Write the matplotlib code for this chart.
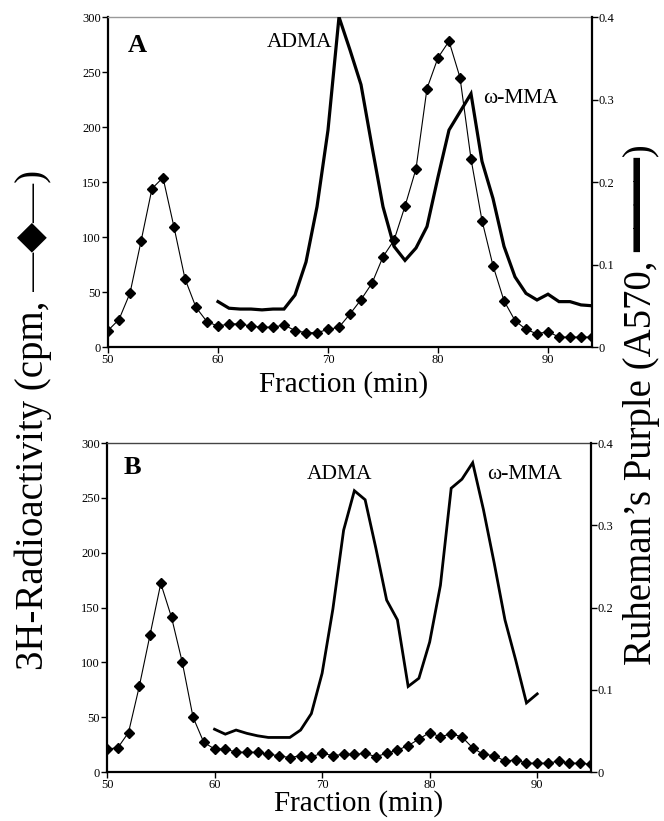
import numpy as np
import matplotlib
matplotlib.use("Agg")
import matplotlib.pyplot as plt

plt.rcParams['font.family'] = ['Liberation Serif', 'DejaVu Sans']

# ---- panel A data ----
frac_a_cpm = list(range(50, 95))
cpm_a = [15, 25, 49, 96, 144, 154, 109, 62, 36, 23,
         19, 21, 21, 19, 18, 18, 20, 15, 13, 13,
         16, 18, 30, 43, 58, 82, 97, 128, 162, 235,
         263, 278, 245, 171, 115, 74, 42, 24, 16, 12,
         14, 9, 9, 9, 9]
frac_a_abs = list(range(60, 95))
abs_a = [0.055, 0.047, 0.046, 0.046, 0.045, 0.046, 0.046, 0.063, 0.103, 0.170,
         0.263, 0.400, 0.360, 0.318, 0.243, 0.170, 0.122, 0.105, 0.120, 0.146,
         0.206, 0.263, 0.285, 0.307, 0.225, 0.180, 0.122, 0.085, 0.065, 0.057,
         0.064, 0.055, 0.055, 0.051, 0.050]

# ---- panel B data ----
frac_b_cpm = list(range(50, 96))
cpm_b = [21, 22, 36, 78, 125, 172, 141, 100, 50, 27,
         21, 21, 18, 18, 18, 16, 15, 13, 15, 14,
         17, 15, 16, 16, 17, 14, 17, 20, 24, 30,
         36, 32, 35, 32, 22, 16, 15, 10, 11, 8,
         8, 8, 10, 8, 8, 7]
frac_b_abs = list(range(60, 91))
abs_b = [0.052, 0.046, 0.051, 0.047, 0.044, 0.042, 0.042, 0.042, 0.051, 0.071,
         0.120, 0.198, 0.294, 0.342, 0.331, 0.272, 0.209, 0.185, 0.104, 0.114,
         0.158, 0.227, 0.345, 0.356, 0.376, 0.319, 0.254, 0.185, 0.136, 0.084,
         0.095]

left_ticks = [0, 50, 100, 150, 200, 250, 300]
right_ticks = [0, 0.1, 0.2, 0.3, 0.4]
right_labels = ["0", "0.1", "0.2", "0.3", "0.4"]
x_ticks = [50, 60, 70, 80, 90]

W, H = 664, 821
fig = plt.figure(figsize=(W / 100, H / 100), dpi=100)


def px_axes(left, right, top, bottom):
    return fig.add_axes([left / W, 1 - bottom / H, (right - left) / W, (bottom - top) / H])


def draw_panel(ax, fc, cpm, fa, ab, xmax, top_color, line_w, letter, labels):
    ax.plot(fc, cpm, color="black", lw=0.8, marker="D", ms=5.0, zorder=3)
    ax.set_xlim(50, xmax)
    ax.set_ylim(0, 300)
    ax.set_xticks(x_ticks)
    ax.set_yticks(left_ticks)
    ax.tick_params(direction="out", length=4, width=1, labelsize=9, pad=1)
    for s in ["left", "bottom"]:
        ax.spines[s].set_linewidth(1.6)
    ax.spines["top"].set_color(top_color)
    ax.spines["top"].set_linewidth(1.0)
    ax.spines["right"].set_visible(False)

    ax2 = ax.twinx()
    ax2.plot(fa, ab, color="black", lw=line_w, solid_joinstyle="miter", zorder=4)
    ax2.set_ylim(0, 0.4)
    ax2.set_yticks(right_ticks)
    ax2.set_yticklabels(right_labels)
    ax2.tick_params(direction="out", length=4, width=1, labelsize=9, pad=1)
    ax2.spines["right"].set_linewidth(1.6)
    for s in ["top", "left", "bottom"]:
        ax2.spines[s].set_visible(False)

    ax.text(letter[0], letter[1], letter[2], fontsize=19, fontweight="bold",
            ha="left", va="center")
    for x, y, t in labels:
        ax.text(x, y, t, fontsize=15.5, ha="left", va="center")
    return ax2


ax_a = px_axes(108, 592, 17, 347)
draw_panel(ax_a, frac_a_cpm, cpm_a, frac_a_abs, abs_a, 94, "#999999", 2.3,
           (51.8, 274, "A"),
           [(64.4, 277, "ADMA"), (84.1, 226, "\u03c9-MMA")])

ax_b = px_axes(107, 591, 443, 772)
draw_panel(ax_b, frac_b_cpm, cpm_b, frac_b_abs, abs_b, 95, "#444444", 2.0,
           (51.5, 278, "B"),
           [(68.6, 271, "ADMA"), (85.3, 271, "\u03c9-MMA")])

fig.text(344 / W, 1 - 385 / H, "Fraction (min)", fontsize=21, ha="center", va="center")
fig.text(359 / W, 1 - 804 / H, "Fraction (min)", fontsize=21, ha="center", va="center")

fig.text(33 / W, 1 - 420 / H, "3H-Radioactivity (cpm, \u2014\u25c6\u2014)",
         fontsize=28, rotation=90, ha="center", va="center")
fig.text(641 / W, 1 - 405 / H, "Ruheman\u2019s Purple (A570, \u2501\u2501\u2501\u2501)",
         fontsize=28, rotation=90, ha="center", va="center")

fig.savefig("out.png", dpi=100)
